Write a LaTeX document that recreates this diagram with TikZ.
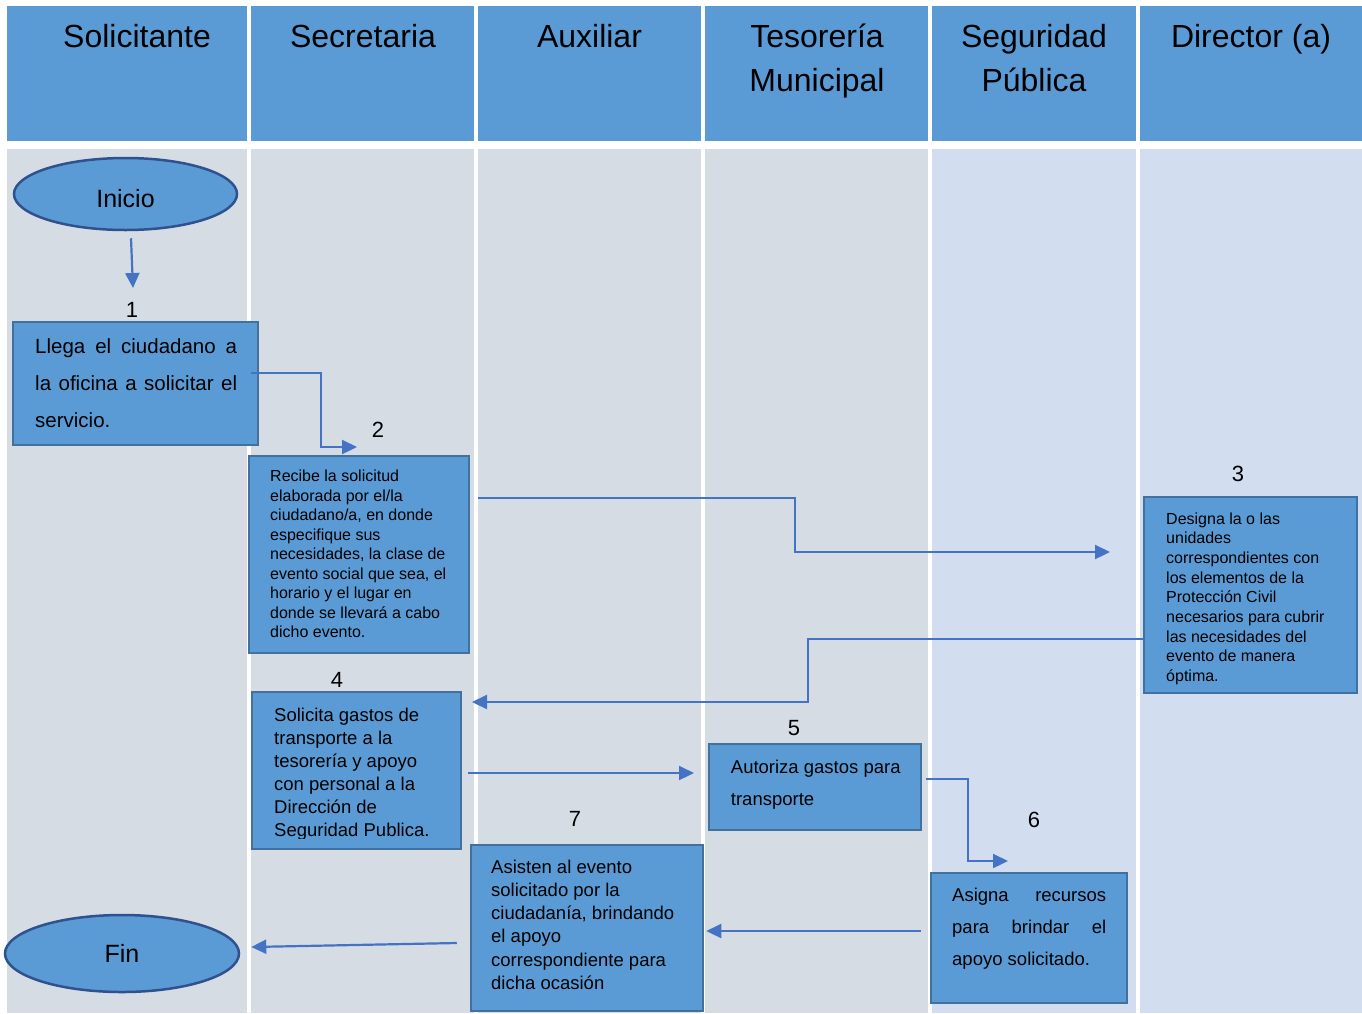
\documentclass[tikz,border=0pt]{standalone}
\usepackage{fontspec}
\setmainfont{Liberation Sans}
\usetikzlibrary{arrows.meta,shapes.geometric}
\definecolor{hdr}{HTML}{5B9BD5}
\definecolor{laneA}{HTML}{D6DCE4}
\definecolor{laneB}{HTML}{D2DEEF}
\definecolor{boxfill}{HTML}{5B9BD5}
\definecolor{boxline}{HTML}{41719C}
\definecolor{ellline}{HTML}{2F528F}
\definecolor{arrc}{HTML}{4472C4}
\begin{document}
\begin{tikzpicture}[x=1pt,y=-1pt,
  hdrtext/.style={anchor=base,align=center,inner sep=0pt,font=\fontsize{32}{44}\selectfont},
  stepbox/.style={rectangle,draw=boxline,fill=boxfill,line width=2.5pt,inner sep=0pt},
  term/.style={ellipse,draw=ellline,fill=boxfill,line width=2.5pt,inner sep=0pt,font=\fontsize{25}{30}\selectfont},
  boxtext/.style={anchor=base west,align=left,inner sep=0pt},
  numlabel/.style={anchor=base,inner sep=0pt,font=\fontsize{22}{26}\selectfont},
  arr/.style={draw=arrc,line width=2.2pt,-{Triangle[length=15pt,width=14pt]}}
]
\useasboundingbox (0,0) rectangle (1362,1013);
\fill[white] (0,0) rectangle (1362,1013);
% lanes: header
\fill[hdr] (7,6) rectangle (247,141);
\fill[hdr] (251,6) rectangle (474,141);
\fill[hdr] (478,6) rectangle (701,141);
\fill[hdr] (705,6) rectangle (928,141);
\fill[hdr] (932,6) rectangle (1136,141);
\fill[hdr] (1140,6) rectangle (1362,141);
% lanes: body
\fill[laneA] (7,149) rectangle (247,1013);
\fill[laneA] (251,149) rectangle (474,1013);
\fill[laneA] (478,149) rectangle (701,1013);
\fill[laneA] (705,149) rectangle (928,1013);
\fill[laneB] (932,149) rectangle (1136,1013);
\fill[laneB] (1140,149) rectangle (1362,1013);
% header texts (base anchor = baseline of the last line)
\node[hdrtext] (h1) at (137,47) {Solicitante};
\node[hdrtext] (h2) at (363,47) {Secretaria};
\node[hdrtext] (h3) at (589.5,47) {Auxiliar};
\node[hdrtext] (h4) at (817,91) {Tesorería\\Municipal};
\node[hdrtext] (h5) at (1034,91) {Seguridad\\Pública};
\node[hdrtext] (h6) at (1251,47) {Director (a)};
% terminals
\node[term,minimum width=223pt,minimum height=72pt] (ini) at (125.5,194) {\raisebox{-4pt}[18pt][0pt]{Inicio}};
\node[term,minimum width=234pt,minimum height=77pt] (fin) at (122,953.5) {Fin};
% boxes
\node[stepbox,minimum width=245pt,minimum height=123pt] (b1) at (135.5,383.5) {};
\node[stepbox,minimum width=220pt,minimum height=197pt] (b2) at (359,554.5) {};
\node[stepbox,minimum width=213pt,minimum height=196pt] (b3) at (1250.5,595) {};
\node[stepbox,minimum width=209pt,minimum height=157pt] (b4) at (356.5,770.5) {};
\node[stepbox,minimum width=212pt,minimum height=86pt] (b5) at (815,787) {};
\node[stepbox,minimum width=196pt,minimum height=130pt] (b6) at (1029,938) {};
\node[stepbox,minimum width=232pt,minimum height=166pt] (b7) at (587,928) {};
% box texts (placed at the baseline of their last line)
\node[boxtext,font=\fontsize{20.5}{37}\selectfont] (t1) at (35,427)
  {\makebox[202pt][s]{Llega el ciudadano a}\\\makebox[202pt][s]{la oficina a solicitar el}\\servicio.};
\node[boxtext,font=\fontsize{16}{19.5}\selectfont] (t2) at (270,637.7)
  {Recibe la solicitud\\elaborada por el/la\\ciudadano/a, en donde\\especifique sus\\necesidades, la clase de\\evento social que sea, el\\horario y el lugar en\\donde se llevará a cabo\\dicho evento.};
\node[boxtext,font=\fontsize{16}{19.7}\selectfont] (t3) at (1166,681.6)
  {Designa la o las\\unidades\\correspondientes con\\los elementos de la\\Protección Civil\\necesarios para cubrir\\las necesidades del\\evento de manera\\óptima.};
\begin{scope}
\clip (252,692) rectangle (461,838);
\node[boxtext,font=\fontsize{18.5}{23.1}\selectfont] (t4) at (274,836.5)
  {Solicita gastos de\\transporte a la\\tesorería y apoyo\\con personal a la\\Dirección de\\Seguridad Publica.};
\end{scope}
\node[boxtext,font=\fontsize{18.5}{31.7}\selectfont] (t5) at (730.7,805)
  {Autoriza gastos para\\transporte};
\node[boxtext,font=\fontsize{18.5}{32}\selectfont] (t6) at (952,965.7)
  {\makebox[154pt][s]{Asigna recursos}\\\makebox[154pt][s]{para brindar el}\\apoyo solicitado.};
\node[boxtext,font=\fontsize{18.5}{23.3}\selectfont] (t7) at (491,989.5)
  {Asisten al evento\\solicitado por la\\ciudadanía, brindando\\el apoyo\\correspondiente para\\dicha ocasión};
% number labels
\node[numlabel] (n1) at (132,317) {1};
\node[numlabel] (n2) at (378,437) {2};
\node[numlabel] (n3) at (1238,481) {3};
\node[numlabel] (n4) at (337,687) {4};
\node[numlabel] (n5) at (794,735) {5};
\node[numlabel] (n6) at (1034,827) {6};
\node[numlabel] (n7) at (575,826) {7};
% free ends of connectors
\coordinate (e1) at (133,288);
\coordinate (e2) at (357,447);
\coordinate (e3) at (1110,552);
\coordinate (e4) at (472,702);
\coordinate (e5) at (694,773);
\coordinate (e6) at (1008,861);
% connectors
\draw[arr] ([shift={(5.5,7)}]ini.south) -- (e1);
\draw[arr] ([shift={(-8,-10.5)}]b1.east) -- ++(70,0) |- (e2);
\draw[arr] ([shift={(8,-56.5)}]b2.east) -- ++(317,0) |- (e3);
\draw[arr] ([shift={(0,44)}]b3.west) -- ++(-335,0) |- (e4);
\draw[arr] ([shift={(6,2.5)}]b4.east) -- (e5);
\draw[arr] ([shift={(4,-8)}]b5.east) -- ++(42,0) |- (e6);
\draw[arr] ([shift={(-9,-7)}]b6.west) -- ([shift={(2,3)}]b7.east);
\draw[arr] ([shift={(-13,15)}]b7.west) -- ([shift={(11,-6.5)}]fin.east);
\end{tikzpicture}
\end{document}
